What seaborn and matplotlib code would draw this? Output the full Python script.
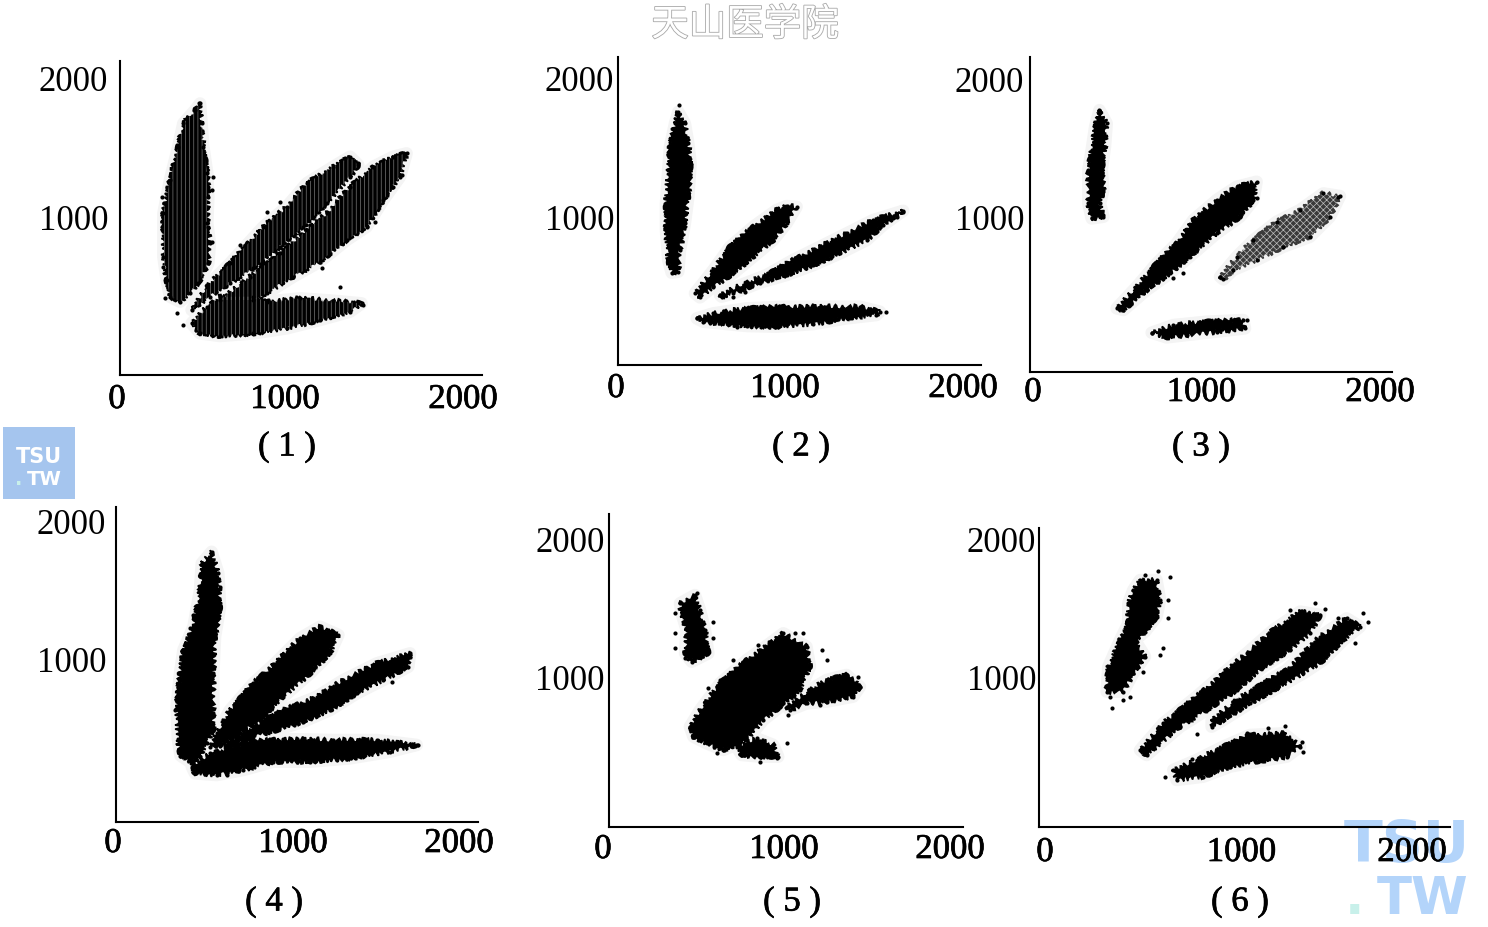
import matplotlib
matplotlib.use("Agg")
import matplotlib.patheffects as pe
import matplotlib.pyplot as plt
import pandas as pd
import seaborn as sns
from matplotlib.patches import Rectangle
from matplotlib.transforms import ScaledTranslation

W, H = 1488, 927

# ── cluster outlines, (x, y) in axis units ────────────────────────────────────
p1_a = [(480, 1824), (489, 1680), (499, 1513), (522, 1321), (528, 1153), (522, 961), (537, 817), (528, 674), (470, 530), (422, 458), (364, 398), (306, 434), (287, 554), (268, 722), (268, 1033), (306, 1273), (354, 1513), (383, 1680), (451, 1776)]
p1_b = [(431, 338), (518, 506), (653, 674), (846, 937), (981, 1081), (1096, 1249), (1250, 1369), (1347, 1441), (1395, 1381), (1347, 1297), (1212, 1105), (1077, 937), (942, 793), (788, 638), (653, 530), (537, 434)]
p1_c = [(595, 410), (769, 578), (942, 746), (1096, 913), (1212, 1033), (1347, 1225), (1482, 1369), (1597, 1441), (1674, 1465), (1636, 1297), (1539, 1129), (1443, 937), (1327, 841), (1173, 686), (1019, 578), (865, 458), (788, 410)]
p1_d = [(431, 242), (518, 362), (595, 434), (788, 434), (865, 398), (1058, 422), (1250, 405), (1414, 386), (1347, 326), (1173, 266), (981, 206), (788, 170), (595, 151), (480, 170)]

p2_a = [(359, 1764), (397, 1680), (417, 1536), (430, 1392), (417, 1153), (397, 961), (369, 769), (359, 614), (321, 606), (301, 697), (288, 913), (288, 1105), (301, 1345), (311, 1512), (340, 1680)]
p2_b = [(455, 458), (561, 626), (657, 793), (791, 937), (925, 1057), (983, 1086), (1041, 1081), (983, 961), (906, 841), (791, 721), (676, 602), (561, 506), (484, 429)]
p2_c = [(599, 446), (695, 506), (868, 590), (1021, 698), (1175, 793), (1329, 889), (1482, 985), (1655, 1052), (1540, 949), (1444, 841), (1290, 745), (1137, 661), (983, 590), (829, 535), (676, 458), (609, 434)]
p2_d = [(465, 278), (561, 314), (753, 350), (983, 362), (1213, 362), (1405, 362), (1521, 326), (1501, 302), (1329, 278), (1137, 237), (925, 218), (753, 223), (599, 242), (503, 254)]

p3_a = [(383, 1776), (425, 1680), (415, 1513), (396, 1345), (406, 1201), (386, 1105), (406, 1009), (338, 997), (319, 1105), (319, 1345), (338, 1489), (358, 1656)]
p3_b = [(482, 350), (598, 506), (713, 674), (828, 817), (924, 985), (1058, 1129), (1174, 1225), (1289, 1261), (1270, 1129), (1193, 1009), (1058, 889), (924, 745), (790, 602), (655, 482), (521, 338)]
p3_c = [(1078, 578), (1174, 721), (1270, 841), (1404, 973), (1538, 1057), (1673, 1177), (1769, 1158), (1711, 1009), (1596, 865), (1442, 793), (1289, 698), (1154, 626), (1097, 558)]
p3_d = [(684, 175), (809, 230), (1001, 254), (1212, 266), (1222, 206), (1058, 182), (886, 158), (770, 141)]

p4_a = [(570, 1777), (609, 1620), (619, 1379), (590, 1162), (580, 896), (580, 606), (580, 485), (542, 389), (500, 290), (450, 250), (390, 300), (375, 420), (368, 654), (387, 896), (407, 1065), (465, 1234), (503, 1500), (513, 1693)]
p4_b = [(560, 360), (599, 461), (676, 630), (811, 824), (946, 980), (1081, 1150), (1197, 1234), (1303, 1174), (1255, 1041), (1139, 896), (985, 727), (869, 582), (734, 461), (619, 380)]
p4_c = [(620, 370), (811, 510), (985, 630), (1178, 727), (1332, 848), (1524, 968), (1717, 1041), (1707, 944), (1563, 848), (1409, 751), (1255, 630), (1100, 546), (946, 485), (811, 437), (676, 353)]
p4_d = [(455, 220), (561, 316), (792, 401), (985, 420), (1274, 413), (1524, 413), (1756, 377), (1601, 328), (1370, 280), (1139, 256), (927, 256), (754, 196), (599, 159), (474, 171)]

p5_a = [(530, 1601), (559, 1493), (588, 1348), (607, 1179), (511, 1118), (473, 1179), (482, 1348), (453, 1468), (444, 1541)]
p5_b = [(501, 647), (559, 768), (674, 961), (828, 1130), (962, 1251), (1039, 1324), (1173, 1227), (1193, 1082), (1135, 913), (1020, 792), (924, 696), (828, 551), (693, 478), (597, 527), (521, 575)]
p5_c = [(1058, 792), (1193, 913), (1289, 986), (1404, 1022), (1481, 937), (1442, 865), (1289, 829), (1173, 816), (1077, 768)]
p5_d = [(770, 502), (885, 563), (981, 515), (1010, 430), (905, 430), (799, 442)]

p6_a = [(518, 1710), (608, 1710), (627, 1565), (608, 1444), (545, 1336), (490, 1275), (545, 1155), (481, 1034), (427, 901), (336, 901), (345, 1082), (409, 1275), (454, 1396), (454, 1541), (481, 1638)]
p6_b = [(518, 478), (645, 672), (826, 865), (972, 1034), (1099, 1179), (1244, 1348), (1390, 1481), (1499, 1457), (1444, 1324), (1335, 1203), (1190, 1082), (1044, 913), (881, 768), (736, 647), (554, 442)]
p6_c = [(908, 696), (1044, 841), (1190, 961), (1317, 1058), (1408, 1179), (1499, 1300), (1644, 1432), (1717, 1372), (1626, 1275), (1517, 1130), (1408, 1034), (1263, 925), (1117, 817), (972, 696), (908, 647)]
p6_d = [(699, 334), (826, 406), (972, 503), (1117, 587), (1299, 599), (1390, 503), (1317, 430), (1154, 394), (1008, 358), (863, 285), (717, 261)]

# ── loose points outside the dense clusters ───────────────────────────────────
p1_loose = [(476, 1824), (557, 1297), (547, 1201), (528, 937), (547, 829), (258, 1153), (268, 650), (277, 422), (383, 230), (345, 314), (1318, 1429), (1395, 1393), (1665, 1460), (1645, 1309), (1597, 1225), (1491, 973), (1424, 374), (1289, 506), (1183, 638), (711, 805), (865, 1045), (942, 1117)]
p2_loose = [(365, 1812), (1655, 1045), (1617, 1009), (1559, 326), (465, 278), (695, 218), (599, 446), (676, 434), (743, 470)]
p3_loose = [(338, 997), (406, 1021), (1289, 1141), (866, 602), (809, 566), (1078, 578), (1759, 1153), (684, 175), (1231, 266)]
p4_loose = [(1765, 377), (1717, 1029), (1611, 836), (619, 1524), (465, 1319), (445, 1222), (860, 896), (359, 630), (657, 159)]
p5_loose = [(415, 1468), (415, 1324), (415, 1215), (636, 1408), (636, 1287), (473, 1142), (540, 1613), (501, 647), (607, 925), (674, 985), (751, 1130), (895, 1239), (1106, 1324), (1154, 1324), (1260, 1203), (1289, 1130), (1471, 1010), (1481, 937), (1442, 877), (1250, 804), (1068, 732), (1058, 527), (905, 394), (1001, 418), (655, 454)]
p6_loose = [(545, 1746), (617, 1775), (681, 1734), (672, 1565), (672, 1432), (645, 1215), (627, 1167), (536, 1046), (363, 780), (463, 865), (427, 841), (354, 865), (1472, 1546), (1526, 1498), (1335, 1493), (1735, 1469), (1762, 1408), (1599, 1432), (830, 594), (654, 285), (799, 411), (1399, 539), (1408, 466), (1308, 655), (1217, 635), (1099, 599), (908, 660), (1690, 1251)]

x_ticks = [0, 1000, 2000]
y_ticks = [1000, 2000]
tick_labels_x = ["0", "1000", "2000"]
tick_labels_y = ["1000", "2000"]

# ── layout of each panel, in pixels of the image ──────────────────────────────
panels = [
    dict(name="( 1 )", clusters=[p1_a, p1_b, p1_c, p1_d], loose=p1_loose, spine=120, top=61, bottom=375, right=482,
         x0=117, x2=463, mid=-5, y1=218, y2=79, ypad=12, xpad=8, label=(287, 447), hatch=True),
    dict(name="( 2 )", clusters=[p2_a, p2_b, p2_c, p2_d], loose=p2_loose, spine=618, top=57, bottom=365, right=981,
         x0=616, x2=963, mid=-4.5, y1=218, y2=79, ypad=4, xpad=7, label=(801, 447)),
    dict(name="( 3 )", clusters=[p3_a, p3_b, p3_c, p3_d], loose=p3_loose, spine=1030, top=57, bottom=372, right=1392,
         x0=1033, x2=1380, mid=-5, y1=218, y2=79, ypad=6, xpad=4, label=(1201, 447), grey=2),
    dict(name="( 4 )", clusters=[p4_a, p4_b, p4_c, p4_d], loose=p4_loose, spine=116, top=507, bottom=822, right=478,
         x0=113, x2=459, mid=7, y1=659, y2=521, ypad=10, xpad=5, label=(274, 902)),
    dict(name="( 5 )", clusters=[p5_a, p5_b, p5_c, p5_d], loose=p5_loose, spine=609, top=514, bottom=827, right=963,
         x0=603, x2=950, mid=7.5, y1=678, y2=540, ypad=4, xpad=6, label=(792, 902)),
    dict(name="( 6 )", clusters=[p6_a, p6_b, p6_c, p6_d], loose=p6_loose, spine=1039, top=528, bottom=827, right=1450,
         x0=1045, x2=1412, mid=13, y1=678, y2=540, ypad=3, xpad=9, label=(1240, 902)),
]

sns.set_theme(style="white")
plt.rcParams["font.family"] = ["Liberation Serif", "DejaVu Serif"]
plt.rcParams["hatch.linewidth"] = 0.5

fig = plt.figure(figsize=(W / 100, H / 100), dpi=100, facecolor="white")
ink = [pe.withStroke(linewidth=0.5, foreground="black")]


def px(x, y):
    return x / W, 1 - y / H


for p in panels:
    left = min(p["spine"], p["x0"]) - 12
    ax = fig.add_axes([left / W, 1 - p["bottom"] / H, (p["right"] - left) / W, (p["bottom"] - p["top"]) / H])
    ax.set_facecolor("none")

    sx = (p["x2"] - p["x0"]) / 2000
    sy = (p["y1"] - p["y2"]) / 1000
    ax.set_xlim((left - p["x0"]) / sx, (p["right"] - p["x0"]) / sx)
    ax.set_ylim(1000 - (p["bottom"] - p["y1"]) / sy, 1000 + (p["y1"] - p["top"]) / sy)
    spine_x = (p["spine"] - p["x0"]) / sx

    for i, cluster in enumerate(p["clusters"]):
        xs, ys = zip(*cluster)
        is_grey = p.get("grey") == i
        colour = "#3a3a3a" if is_grey else "black"
        # faint halo of the scanned print
        ax.fill(xs, ys, facecolor="none", edgecolor="#f4f4f4", linewidth=9, joinstyle="round", zorder=1)
        body = ax.fill(xs, ys, facecolor=colour, edgecolor=colour, linewidth=1.2, zorder=2)[0]
        body.set_sketch_params(scale=2.4, length=5, randomness=9)
        if p.get("hatch"):
            ax.fill(xs, ys, facecolor="none", edgecolor="#777777", hatch="||||", linewidth=0, zorder=3)
        if is_grey:
            ax.fill(xs, ys, facecolor="none", edgecolor="#bdbdbd", hatch="xxxxx", linewidth=0, zorder=3)

    # outline vertices and loose points as separate dots
    outline = [pt for cluster in p["clusters"] for pt in cluster]
    dots = pd.DataFrame(outline + p["loose"], columns=["x", "y"])
    sns.scatterplot(data=dots, x="x", y="y", ax=ax, s=9, color="black", linewidth=0, legend=False, zorder=4)

    ax.set_xlabel("")
    ax.set_ylabel("")
    ax.set_xticks(x_ticks, tick_labels_x)
    ax.set_yticks(y_ticks, tick_labels_y)
    ax.tick_params(axis="x", length=0, labelsize=25, pad=p["xpad"] * 0.72, colors="black")
    ax.tick_params(axis="y", length=0, labelsize=25, pad=p["ypad"] * 0.72, colors="black")
    for tick_label in ax.get_xticklabels() + ax.get_yticklabels():
        tick_label.set_path_effects(ink)

    sns.despine(ax=ax)
    ax.spines["left"].set_position(("data", spine_x))
    ax.spines["bottom"].set_bounds(spine_x, ax.get_xlim()[1])
    for side in ["left", "bottom"]:
        ax.spines[side].set_color("black")
        ax.spines[side].set_linewidth(1.5)

    # the printed 1000 does not sit midway between 0 and 2000
    mid_label = ax.get_xticklabels()[1]
    mid_label.set_transform(mid_label.get_transform() + ScaledTranslation(p["mid"] / 100, 0, fig.dpi_scale_trans))

    lx, ly = px(*p["label"])
    fig.text(lx, ly, p["name"], ha="center", va="center", fontsize=25, color="black", path_effects=ink)

# ── site marks ────────────────────────────────────────────────────────────────
tx, ty = px(745, 25)
fig.text(tx, ty, "天山医学院", ha="center", va="center", fontsize=27, family=["Noto Sans CJK SC", "DejaVu Sans"],
         color="white", path_effects=[pe.withStroke(linewidth=1.2, foreground="#a8a8a8")])

x, y = px(3, 499)
fig.add_artist(Rectangle((x, y), 72 / W, 72 / H, transform=fig.transFigure, facecolor="#a5c5ee", edgecolor="none", zorder=-2))
for label, lx, ly, size, colour, ha in [
    ("TSU", 39, 463, 15, "white", "center"),
    ("TW", 62, 485, 14, "white", "right"),
    (".", 15, 485, 14, "#c8f0ea", "left"),
    ("TSU", 1407, 862, 41, "#b3d4fa", "center"),
    ("TW", 1468, 914, 37, "#b3d4fa", "right"),
    (".", 1345, 914, 37, "#c8f0ea", "left"),
]:
    mx, my = px(lx, ly)
    fig.text(mx, my, label, ha=ha, va="baseline", fontsize=size, fontweight="bold", family="DejaVu Sans",
             color=colour, zorder=-1)

fig.savefig("out.png", dpi=100)
